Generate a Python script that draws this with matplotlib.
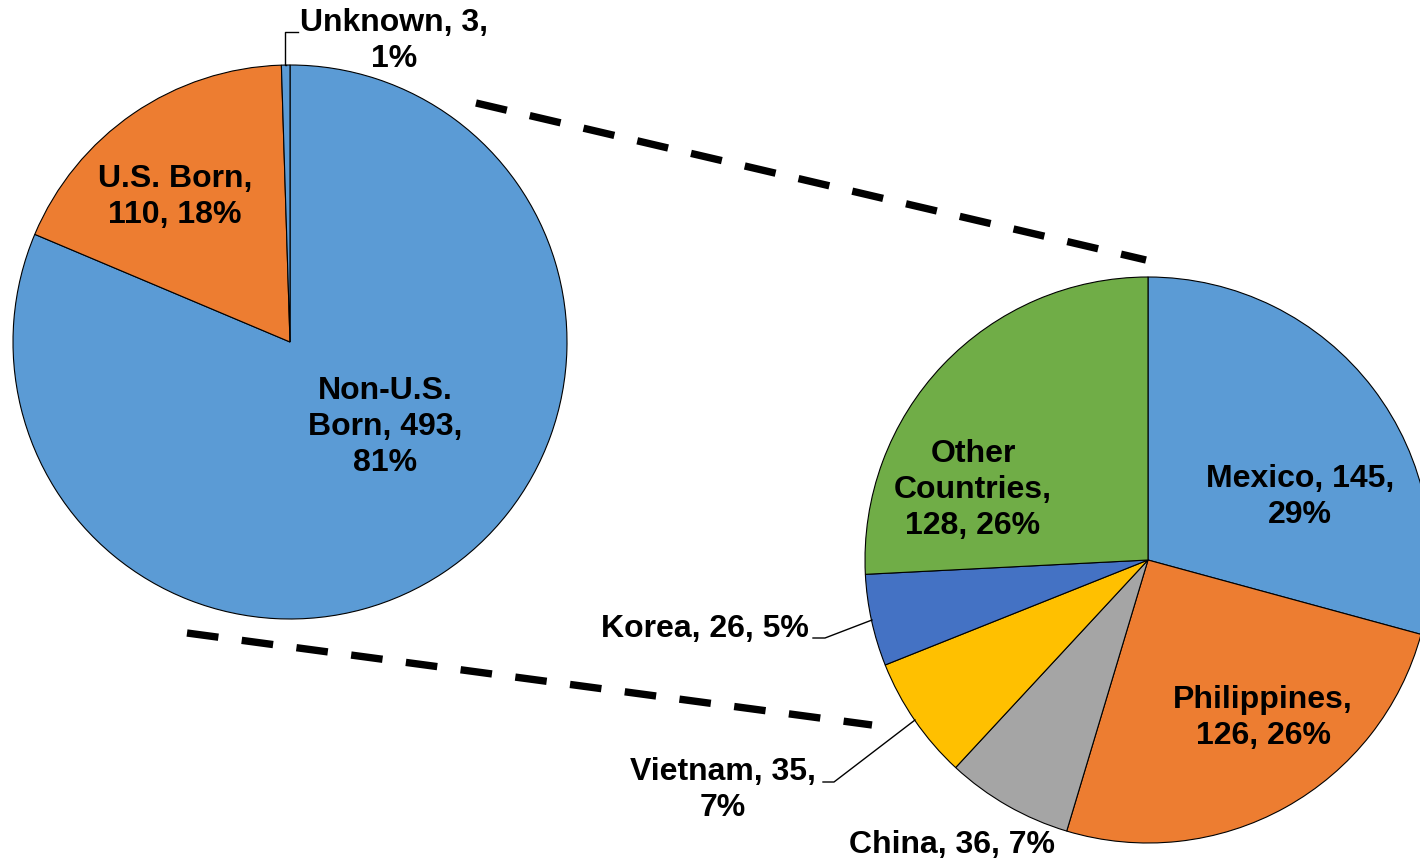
import matplotlib
matplotlib.use("Agg")
import matplotlib.pyplot as plt

# ---- data ----
birth_labels = ["Non-U.S.\nBorn", "U.S. Born", "Unknown"]
birth_values = [493, 110, 3]
birth_pcts = [81, 18, 1]
birth_colors = ["#5B9BD5", "#ED7D31", "#5B9BD5"]

country_labels = ["Mexico", "Philippines", "China", "Vietnam", "Korea", "Other\nCountries"]
country_values = [145, 126, 36, 35, 26, 128]
country_pcts = [29, 26, 7, 7, 5, 26]
country_colors = ["#5B9BD5", "#ED7D31", "#A5A5A5", "#FFC000", "#4472C4", "#70AD47"]

W, H = 1420, 861
fig = plt.figure(figsize=(W / 100, H / 100), dpi=100)
ax = fig.add_axes([0, 0, 1, 1])

def Y(py):
    return H - py

wp = dict(edgecolor="black", linewidth=0.8)
ax.pie(birth_values, colors=birth_colors, startangle=90, counterclock=False,
       center=(290, Y(342)), radius=277, wedgeprops=wp, frame=True)
ax.pie(country_values, colors=country_colors, startangle=90, counterclock=False,
       center=(1148, Y(560)), radius=283, wedgeprops=wp, frame=True)

# connecting dashed lines
dash_kw = dict(color="black", linewidth=5.3, dashes=(4.3, 3.2),
               dash_capstyle="butt")
ax.plot([476, 1146], [Y(103), Y(260)], **dash_kw)
ax.plot([187, 872], [Y(633), Y(725)], **dash_kw)

# leader lines
lk = dict(color="black", linewidth=1.0)
ax.plot([286, 285, 285, 298], [Y(65), Y(65), Y(32), Y(32)], **lk)
ax.plot([813, 825, 872], [Y(638), Y(638), Y(620)], **lk)
ax.plot([823, 834, 915], [Y(782), Y(782), Y(720)], **lk)

txt = dict(fontsize=23, fontweight="bold", family=["Liberation Sans", "DejaVu Sans"],
           ha="center", va="center", multialignment="center", linespacing=1.28,
           color="black")

b_text = [
    f"{birth_labels[0]}, {birth_values[0]},\n{birth_pcts[0]}%",
    f"{birth_labels[1]},\n{birth_values[1]}, {birth_pcts[1]}%",
    f"{birth_labels[2]}, {birth_values[2]},\n{birth_pcts[2]}%",
]
b_pos = [(385, 427), (175, 197), (394, 41)]
for t, (x, y) in zip(b_text, b_pos):
    ax.text(x, Y(y), t, **txt)

c_text = [
    f"{country_labels[0]}, {country_values[0]},\n{country_pcts[0]}%",
    f"{country_labels[1]},\n{country_values[1]}, {country_pcts[1]}%",
    f"{country_labels[2]}, {country_values[2]}, {country_pcts[2]}%",
    f"{country_labels[3]}, {country_values[3]},\n{country_pcts[3]}%",
    f"{country_labels[4]}, {country_values[4]}, {country_pcts[4]}%",
    f"{country_labels[5]},\n{country_values[5]}, {country_pcts[5]}%",
]
c_pos = [(1300, 497), (1263, 718), (952, 845), (723, 790), (705, 629), (973, 490)]
for t, (x, y) in zip(c_text, c_pos):
    ax.text(x, Y(y), t, **txt)

ax.set_xlim(0, W)
ax.set_ylim(0, H)
ax.set_aspect("equal")
ax.axis("off")
fig.savefig("out.png", dpi=100, facecolor="white")
